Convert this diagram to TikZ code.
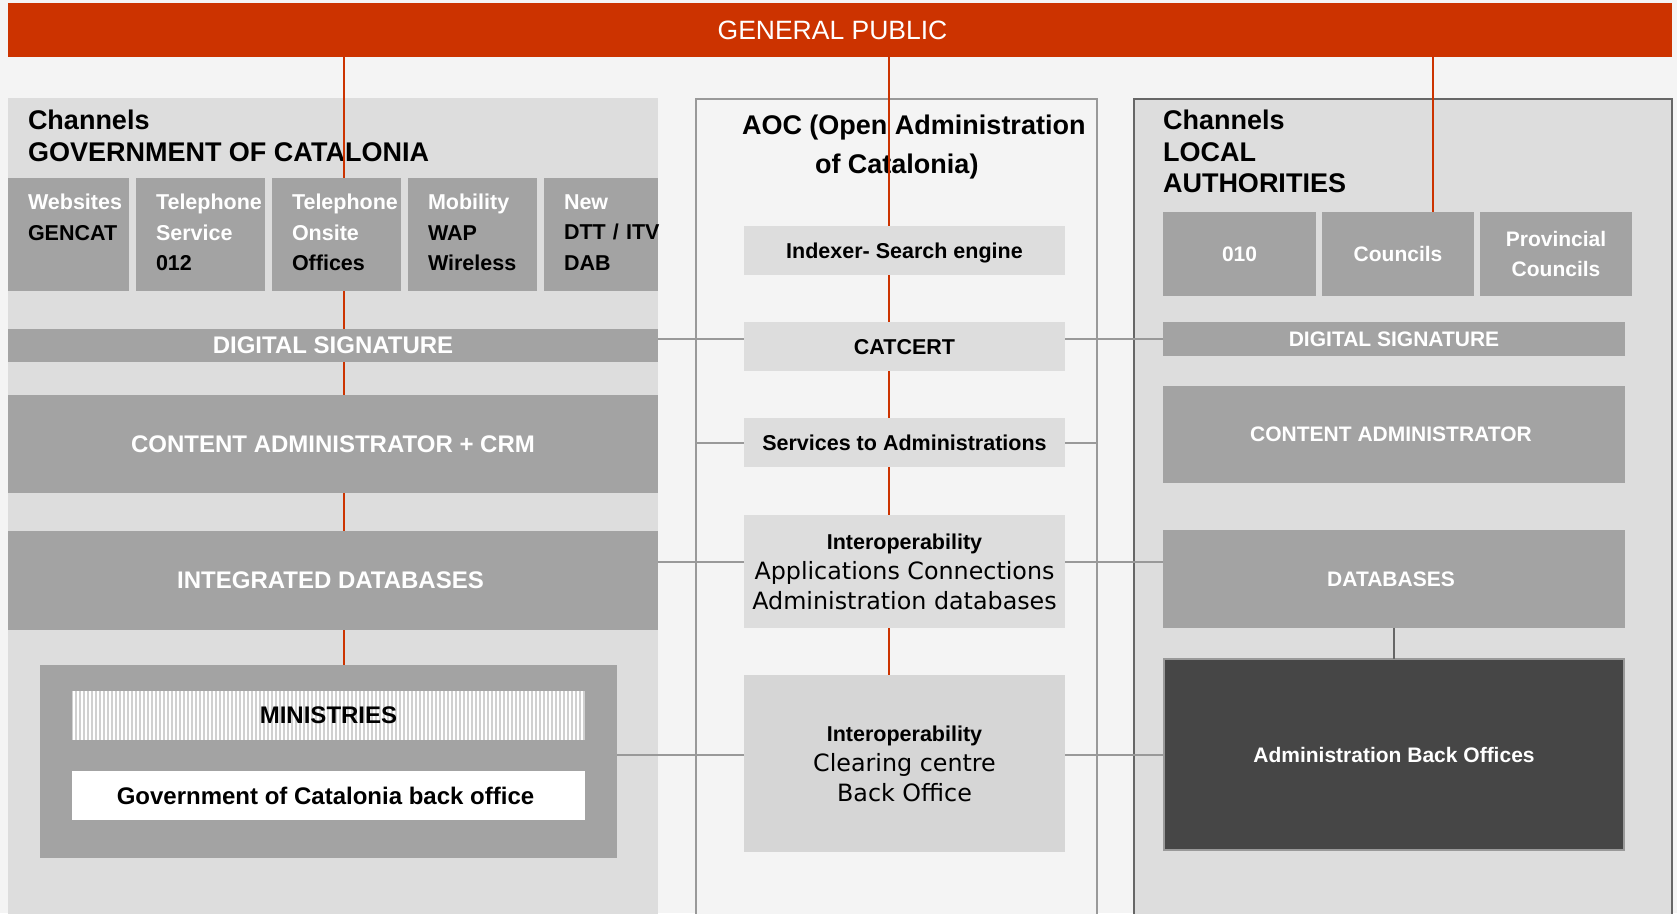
\documentclass[tikz,border=0pt]{standalone}
\usepackage{fontspec}
\setmainfont{Liberation Sans}
\newfontfamily\verdfont{DejaVu Sans}
\usetikzlibrary{positioning}
\definecolor{gpred}{HTML}{CC3300}
\definecolor{pagebg}{HTML}{F4F4F4}
\definecolor{panelgray}{HTML}{DDDDDD}
\definecolor{boxgray}{HTML}{A3A3A3}
\definecolor{clrgray}{HTML}{D6D6D6}
\definecolor{darkbox}{HTML}{464646}
\definecolor{linkgray}{HTML}{999999}
\definecolor{rimgray}{HTML}{666666}
\definecolor{stripegray}{HTML}{D0D0D0}
\hyphenpenalty=10000
\exhyphenpenalty=10000
\tikzset{
        x=1pt, y=-1pt,
        every node/.style={inner sep=0pt, outer sep=0pt},
        panel/.style={anchor=north west, fill=panelgray},
        titletext/.style={anchor=north west, align=left, font=\bfseries\fontsize{27}{32}\selectfont},
        chan/.style={anchor=north west, fill=boxgray, text width=#1, inner xsep=20pt,
                     execute at end node=\rule[-4pt]{0pt}{4pt},
                     minimum height=113pt, align=left, font=\bfseries\fontsize{21.5}{30.5}\selectfont},
        local/.style={anchor=north west, fill=boxgray, minimum height=84pt, text=white,
                      align=center, font=\bfseries\fontsize{21}{30}\selectfont},
        band/.style={anchor=north west, fill=boxgray, text=white, font=\bfseries\fontsize{24}{28}\selectfont},
        rband/.style={band, minimum width=462pt, font=\bfseries\fontsize{21}{28}\selectfont},
        aocbox/.style={anchor=north west, fill=panelgray, minimum width=321pt, align=center, text depth=0pt,
                       font=\bfseries\fontsize{21.5}{30}\selectfont},
        officebox/.style={anchor=north west, fill=white, minimum width=513pt, minimum height=49pt,
                          font=\bfseries\fontsize{24}{28}\selectfont},
        stripe/.style={draw=stripegray, line width=2pt},
        redline/.style={draw=gpred, line width=2pt},
        link/.style={draw=linkgray, line width=2pt}
        }
\newcommand{\verdline}[1]{{\verdfont\mdseries\fontsize{23.8}{30}\selectfont #1}}

\begin{document}
\begin{tikzpicture}
        \fill[pagebg, use as bounding box] (0,0) rectangle (1677,913);
        % three columns
        \node[panel, minimum width=650pt, minimum height=822pt] (govp) at (8,98) {};
        \node[panel, fill=pagebg, draw=linkgray, line width=2pt, minimum width=401pt, minimum height=821pt] (aoc) at (696,99) {};
        \node[panel, draw=rimgray, line width=2pt, minimum width=538pt, minimum height=821pt] (locp) at (1134,99) {};
        \node[anchor=north west, fill=gpred, minimum width=1664pt, minimum height=54pt, text=white,
              font=\fontsize{26.5}{30}\selectfont] (gp) at (8,3) {GENERAL PUBLIC\hspace*{15pt}};

        % Government of Catalonia
        \node[titletext] (govt) at (28,110) {Channels\\GOVERNMENT OF CATALONIA};
        \node[chan=81pt] (web) at (8,178) {\textcolor{white}{Websites}\\GENCAT\\\mbox{}};
        \node[chan=89pt, right=7pt of web] (tel) {\textcolor{white}{Telephone}\\\textcolor{white}{Service}\\012};
        \node[chan=89pt, right=7pt of tel] (onsite) {\textcolor{white}{Telephone}\\\textcolor{white}{Onsite}\\Offices};
        \node[chan=89pt, right=7pt of onsite] (mob) {\textcolor{white}{Mobility}\\WAP\\Wireless};
        \node[chan=74pt, right=7pt of mob] (dtt) {\textcolor{white}{New}\\DTT~/~ITV\\DAB};
        \node[band, minimum width=650pt, minimum height=33pt] (dsL) at (8,329) {DIGITAL SIGNATURE};
        \node[band, minimum width=650pt, minimum height=98pt, below=33pt of dsL] (cma) {CONTENT ADMINISTRATOR + CRM};
        \node[band, minimum width=650pt, minimum height=99pt, below=38pt of cma] (idb) {INTEGRATED DATABASES\hspace*{5pt}};
        \node[anchor=north west, fill=boxgray, minimum width=577pt, minimum height=193pt] (mino) at (40,665) {};
        \node[officebox, path picture={
                \foreach \sx in {0,4,...,512}
                  \draw[stripe] ([xshift=\sx pt]path picture bounding box.north west)
                             -- ([xshift=\sx pt]path picture bounding box.south west);
              }] (minst) at (72,691) {MINISTRIES};
        \node[officebox] (gbo) at (72,771) {Government of Catalonia back office\hspace*{6pt}};

        % AOC
        \node[anchor=north west, align=left, font=\bfseries\fontsize{27}{38.5}\selectfont] (aoct) at (742,115)
              {AOC (Open Administration\\\hspace*{73pt}of Catalonia)};
        \node[aocbox, minimum height=49pt] (idx) at (744,226) {Indexer- Search engine};
        \node[aocbox, minimum height=49pt, below=47pt of idx] (cat) {CATCERT};
        \node[aocbox, minimum height=49pt, below=47pt of cat] (svc) {Services to Administrations};
        \node[aocbox, minimum height=113pt, below=48pt of svc] (iop) {Interoperability\\\verdline{Applications Connections}\\\verdline{Administration databases}};
        \node[aocbox, fill=clrgray, minimum height=177pt, below=47pt of iop] (clr) {Interoperability\\\verdline{Clearing centre}\\\verdline{Back Office}};

        % Local authorities
        \node[titletext, font=\bfseries\fontsize{27}{31.5}\selectfont] (loct) at (1163,110) {Channels\\LOCAL\\AUTHORITIES};
        \node[local, minimum width=153pt] (c010) at (1163,212) {010};
        \node[local, minimum width=152pt, right=6pt of c010] (cou) {Councils};
        \node[local, minimum width=152pt, right=6pt of cou] (prov) {Provincial\\Councils};
        \node[rband, minimum height=34pt] (dsR) at (1163,322) {DIGITAL SIGNATURE};
        \node[rband, minimum height=97pt, below=30pt of dsR] (cad) {CONTENT ADMINISTRATOR\hspace*{6pt}};
        \node[rband, minimum height=98pt, below=47pt of cad] (dbs) {DATABASES\hspace*{6pt}};
        \node[rband, fill=darkbox, draw=linkgray, line width=2pt, minimum width=460pt, minimum height=191pt,
              below=31pt of dbs] (abo) {Administration Back Offices};

        % red spines from the general public
        \coordinate (gx) at (344,0);
        \coordinate (ax) at (889,0);
        \coordinate (lx) at (1433,0);
        \foreach \a/\b in {gp/onsite, onsite/dsL, dsL/cma, cma/idb, idb/mino}
          \draw[redline] (\a.south -| gx) -- (\b.north -| gx);
        \foreach \a/\b in {gp/idx, idx/cat, cat/svc, svc/iop, iop/clr}
          \draw[redline] (\a.south -| ax) -- (\b.north -| ax);
        \draw[redline] (gp.south -| lx) -- (cou.north -| lx);

        % grey links across the AOC
        \coordinate (iy) at (0,562);
        \draw[link] (dsL.east |- dsR.west) -- (cat.west |- dsR.west);
        \draw[link] (cat.east |- dsR.west) -- (dsR.west);
        \draw[link] (aoc.west |- svc.west) -- (svc.west);
        \draw[link] (svc.east) -- (aoc.east |- svc.east);
        \draw[link] (idb.east |- iy) -- (iop.west |- iy);
        \draw[link] (iop.east |- iy) -- (dbs.west |- iy);
        \draw[link] (mino.east |- abo.west) -- (clr.west |- abo.west);
        \draw[link] (clr.east |- abo.west) -- (abo.west);
        \draw[link, draw=rimgray] (dbs.south) -- (abo.north);
\end{tikzpicture}
\end{document}
